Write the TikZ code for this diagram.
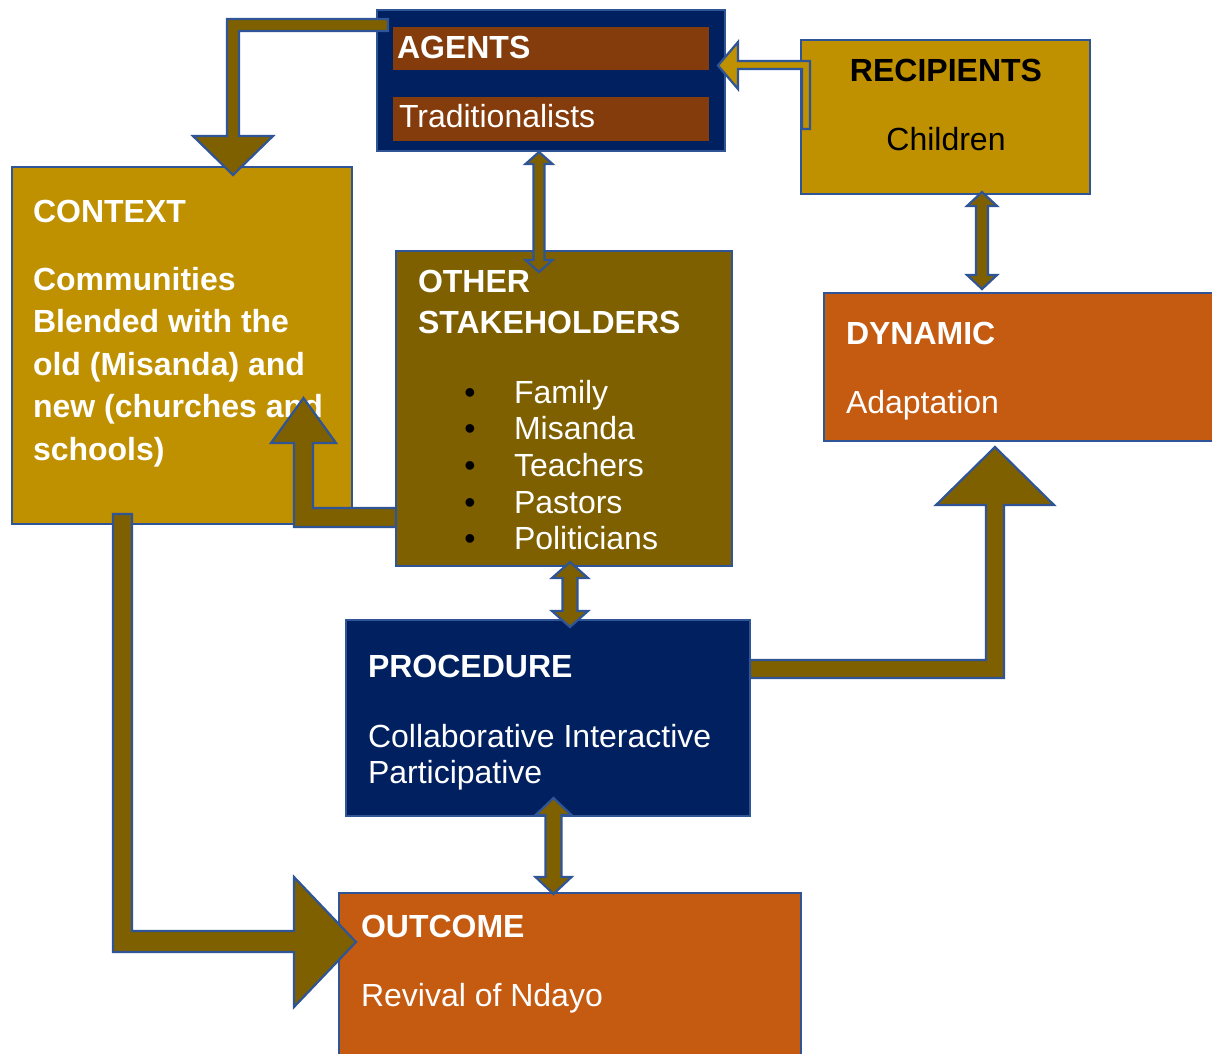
\documentclass[tikz,border=0pt]{standalone}
\usepackage{fontspec}
\setmainfont{Liberation Sans}
\definecolor{navy}{RGB}{0,32,96}
\definecolor{gold}{RGB}{191,144,0}
\definecolor{olive}{RGB}{127,96,0}
\definecolor{rust}{RGB}{197,90,17}
\definecolor{brownbar}{RGB}{132,60,12}
\definecolor{bord}{RGB}{47,85,151}
\newcommand\vdarr[6]{%
  \draw[arr] (#1,#2) -- (#1+#5,#2+#6) -- (#1+#4,#2+#6) -- (#1+#4,#3-#6) -- (#1+#5,#3-#6) -- (#1,#3)
    -- (#1-#5,#3-#6) -- (#1-#4,#3-#6) -- (#1-#4,#2+#6) -- (#1-#5,#2+#6) -- cycle;}
\begin{document}
\begin{tikzpicture}[x=1pt,y=-1pt,
  box/.style={draw=bord,line width=2.2pt,anchor=north west,inner sep=0pt,outer sep=0pt},
  bar/.style={fill=brownbar,anchor=north west,inner sep=0pt,outer sep=0pt},
  txt/.style={anchor=base west,inner sep=0pt,outer sep=0pt,text=white,font=\fontsize{32}{36}\selectfont},
  btxt/.style={txt,font=\fontsize{32}{36}\selectfont\bfseries},
  arr/.style={fill=olive,draw=bord,line width=2.2pt,line join=miter},
  garr/.style={arr,fill=gold}]
\useasboundingbox (0,0) rectangle (1212,1053);
\clip (0,0) rectangle (1212,1053);
% boxes
\node[box,fill=navy,minimum width=348,minimum height=141] (agents) at (377,10) {};
\node[bar,minimum width=316,minimum height=43] (agentsbar) at (393,27) {};
\node[bar,minimum width=316,minimum height=44] (tradbar) at (393,97) {};
\node[box,fill=gold,minimum width=289,minimum height=154] (recip) at (801,40) {};
\node[box,fill=gold,minimum width=340,minimum height=357] (context) at (12,167) {};
\node[box,fill=olive,minimum width=336,minimum height=315] (other) at (396,251) {};
\node[box,fill=rust,minimum width=420,minimum height=148] (dynamic) at (824,293) {};
\node[box,fill=navy,minimum width=404,minimum height=196] (proc) at (346,620) {};
\node[box,fill=rust,minimum width=462,minimum height=200] (outcome) at (339,893) {};
% texts
\node[btxt] (tA) at (397,58) {AGENTS};
\node[txt] (tTr) at (399,127) {Traditionalists};
\node[btxt,text=black,anchor=base] (tR) at (946,81) {RECIPIENTS};
\node[txt,text=black,anchor=base] (tCh) at (946,150) {Children};
\node[btxt] (tC) at (33,222) {CONTEXT};
\node[btxt] (tC1) at (33,290) {Communities};
\node[btxt] (tC2) at (33,332) {Blended with the};
\node[btxt] (tC3) at (33,375) {old (Misanda) and};
\node[btxt] (tC4) at (33,417) {new (churches and};
\node[btxt] (tC5) at (33,460) {schools)};
\node[btxt] (tO1) at (418,292) {OTHER};
\node[btxt] (tO2) at (418,333) {STAKEHOLDERS};
\foreach \y/\w [count=\i] in {403/Family,439/Misanda,476/Teachers,513/Pastors,549/Politicians}{
  \node[txt,text=black,anchor=base] (b\i) at (470,\y) {•};
  \node[txt] (l\i) at (514,\y) {\w};
}
\node[btxt] (tD) at (846,344) {DYNAMIC};
\node[txt] (tAd) at (846,413) {Adaptation};
\node[btxt] (tP) at (368,677) {PROCEDURE};
\node[txt] (tP1) at (368,747) {Collaborative Interactive};
\node[txt] (tP2) at (368,783) {Participative};
\node[btxt] (tOu) at (361,937) {OUTCOME};
\node[txt] (tOu1) at (361,1006) {Revival of Ndayo};
% arrows
\draw[arr] (388,19) -- (227,19) -- (227,136) -- (193,136) -- (233,175) -- (273,136) -- (239,136) -- (239,31) -- (388,31) -- cycle;
\draw[garr] (810,129) -- (810,61) -- (738,61) -- (738,42) -- (718,65.5) -- (738,89) -- (738,69) -- (802,69) -- (802,129) -- cycle;
\draw[arr] (396,508) -- (313,508) -- (313,443) -- (336,443) -- (303.5,398) -- (271,443) -- (294,443) -- (294,527) -- (396,527) -- cycle;
\draw[arr] (750,660) -- (986,660) -- (986,505) -- (936,505) -- (995,447) -- (1054,505) -- (1004,505) -- (1004,678) -- (750,678) -- cycle;
\draw[arr] (113,514) -- (132,514) -- (132,931) -- (294,931) -- (294,877) -- (356,942) -- (294,1007) -- (294,952) -- (113,952) -- cycle;
\vdarr{539}{152}{272}{5.5}{13.5}{12}
\vdarr{570}{562}{627}{7.5}{18}{16}
\vdarr{553.5}{798}{894}{8}{18}{17}
\vdarr{982}{192}{289}{6}{15}{14}
\end{tikzpicture}
\end{document}
